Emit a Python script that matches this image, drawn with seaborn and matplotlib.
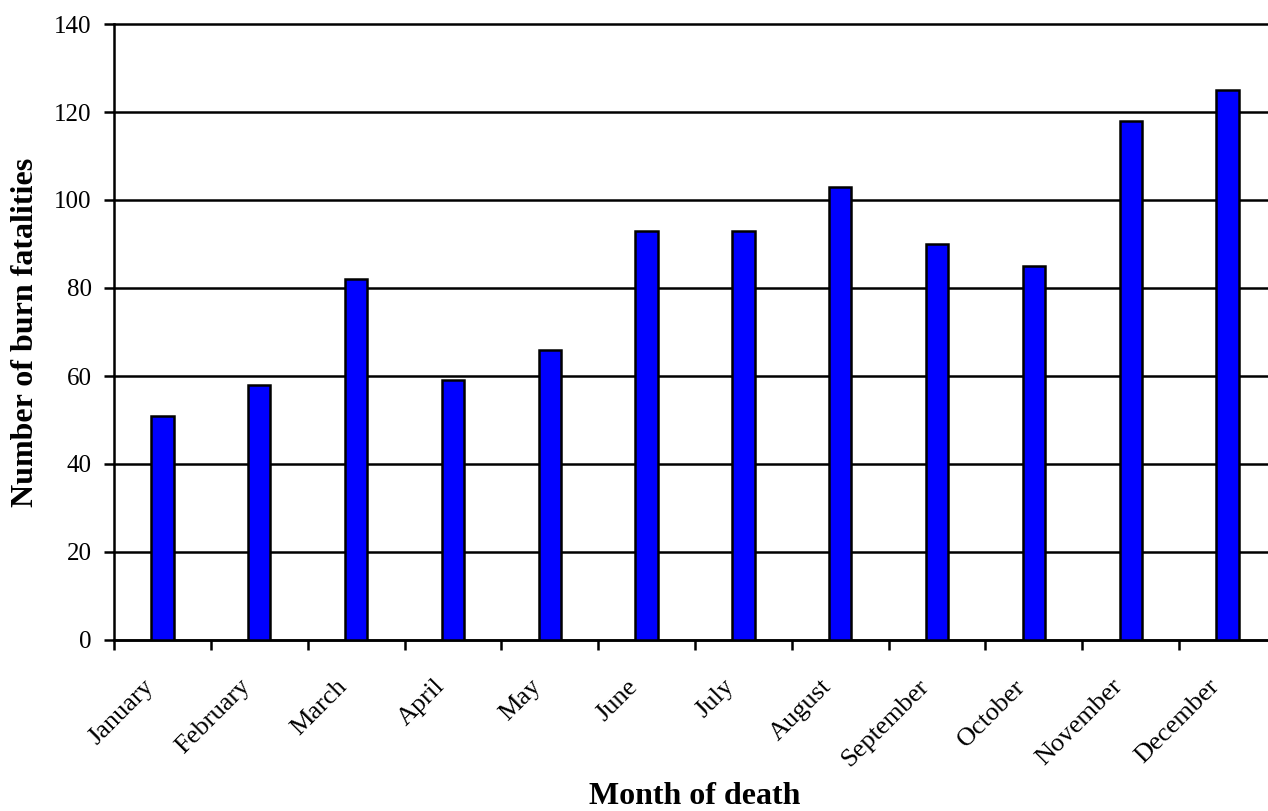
import matplotlib
matplotlib.use('Agg')
import matplotlib.pyplot as plt
import matplotlib.transforms as mtransforms
import numpy as np
import pandas as pd
import seaborn as sns

months = ['January', 'February', 'March', 'April', 'May', 'June', 'July',
          'August', 'September', 'October', 'November', 'December']
fatalities = [51, 58, 82, 59, 66, 93, 93, 103, 90, 85, 118, 125]

df = pd.DataFrame({'Month': months, 'Deaths': fatalities})

sns.set_theme(style='white')
plt.rcParams['font.family'] = ['Liberation Serif', 'DejaVu Serif']

fig = plt.figure(figsize=(12.68, 8.11), dpi=100)
ax = fig.add_axes([114 / 1268, 1 - 640 / 811, (1276 - 114) / 1268, 616 / 811])

sns.barplot(data=df, x='Month', y='Deaths', color='#0000FF', edgecolor='black',
            linewidth=1.8, width=0.23, saturation=1, ax=ax, zorder=3)

ax.set_xlim(-0.5, len(months) - 0.5)
ax.set_ylim(0, 140)
ax.set_yticks(np.arange(0, 141, 20))
ax.yaxis.grid(True, color='black', linewidth=1.8)
ax.set_axisbelow(True)
for gl in ax.get_ygridlines():
    gl.set_clip_on(False)

# category boundaries get the visible ticks
ax.set_xticks(np.arange(-0.5, len(months), 1), minor=True)
ax.tick_params(axis='x', which='major', length=0, pad=31, labelsize=19)
ax.tick_params(axis='x', which='minor', length=7, width=1.8, color='black', direction='out')
ax.tick_params(axis='y', length=7, width=1.8, color='black', direction='out', pad=9, labelsize=18)
ax.tick_params(labelcolor='black')
ax.xaxis.set_ticks_position('bottom')
ax.yaxis.set_ticks_position('left')

shift = mtransforms.ScaledTranslation(-12 / 100, 0, fig.dpi_scale_trans)
for lab in ax.get_xticklabels():
    lab.set_rotation(45)
    lab.set_ha('right')
    lab.set_va('center')
    lab.set_rotation_mode('anchor')
    lab.set_transform(lab.get_transform() + shift)

for s in ['top', 'right']:
    ax.spines[s].set_visible(False)
for s in ['left', 'bottom']:
    ax.spines[s].set_color('black')
    ax.spines[s].set_linewidth(1.8)

ax.set_xlabel('Month of death', fontsize=23, fontweight='bold', color='black')
ax.xaxis.set_label_coords(0.5, (640 - 797) / 616)
ax.xaxis.label.set_va('center')
ax.set_ylabel('Number of burn fatalities', fontsize=23, fontweight='bold', color='black', labelpad=10)

fig.savefig('out.png', dpi=100)
